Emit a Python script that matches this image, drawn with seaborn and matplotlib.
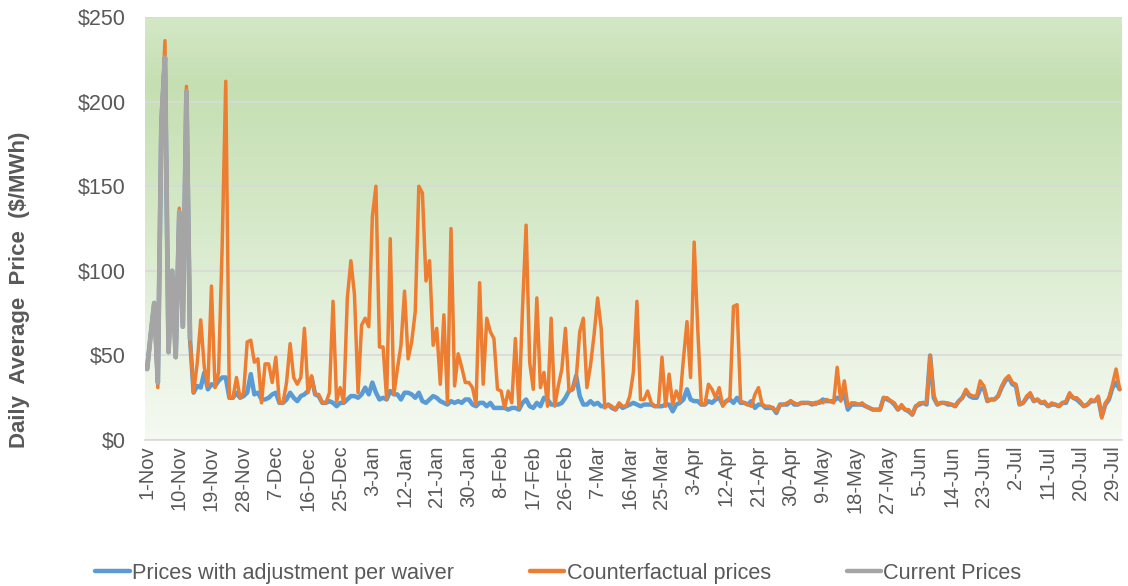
import numpy as np
import pandas as pd
import matplotlib
matplotlib.use("Agg")
import matplotlib.pyplot as plt
import seaborn as sns
from matplotlib.colors import LinearSegmentedColormap
from matplotlib.lines import Line2D

# ---------------------------------------------
# Daily average prices ($/MWh), 1-Nov .. 31-Jul
# ---------------------------------------------
current_prices = [42, 62, 81, 34, 188, 226, 52, 100, 49, 135, 67, 206, 60]

adjusted_prices = [
    # Nov
    42, 62, 81, 34, 188, 226, 52, 100, 49, 135, 67, 206, 60, 28, 32, 31, 40, 30, 33, 32,
    35, 37, 37, 25, 25, 28, 25, 26, 28, 39,
    # Dec
    27, 28, 24, 24, 25, 27, 28, 22, 22, 24, 28, 25, 23, 26, 27, 29, 37, 27, 26, 22,
    22, 23, 22, 20, 22, 22, 24, 26, 26, 25, 27,
    # Jan
    31, 27, 34, 28, 24, 25, 24, 29, 27, 27, 24, 28, 28, 27, 25, 28, 23, 22, 24, 26,
    25, 23, 22, 21, 23, 22, 23, 22, 24, 24, 21,
    # Feb
    20, 22, 22, 20, 22, 19, 19, 19, 19, 18, 19, 19, 18, 22, 24, 20, 19, 22, 20, 25,
    24, 21, 21, 21, 22, 25, 29, 30,
    # Mar
    38, 26, 21, 21, 23, 21, 22, 20, 20, 21, 19, 18, 21, 19, 20, 21, 22, 21, 20, 21,
    21, 21, 20, 20, 20, 21, 21, 17, 21, 22, 24,
    # Apr
    30, 24, 23, 23, 21, 21, 23, 22, 24, 25, 21, 23, 24, 22, 25, 22, 22, 21, 23, 19,
    21, 21, 19, 19, 19, 16, 21, 21, 21, 23,
    # May
    21, 21, 22, 22, 22, 21, 22, 22, 24, 23, 23, 23, 25, 24, 27, 18, 21, 21, 21, 21,
    20, 19, 18, 18, 18, 25, 24, 23, 21, 18, 20,
    # Jun
    18, 17, 15, 20, 21, 22, 21, 50, 25, 21, 22, 22, 21, 21, 20, 23, 25, 29, 26, 25,
    25, 30, 31, 23, 24, 24, 26, 31, 35, 37,
    # Jul
    33, 32, 21, 22, 25, 27, 23, 24, 22, 22, 20, 21, 21, 20, 22, 22, 27, 25, 24, 22,
    20, 21, 23, 23, 25, 14, 21, 24, 31, 34, 30,
]

counterfactual_prices = [
    # Nov
    42, 62, 81, 31, 188, 236, 52, 100, 49, 137, 67, 209, 60, 28, 45, 71, 43, 32, 91, 31,
    40, 115, 212, 25, 25, 37, 25, 28, 58, 59,
    # Dec
    46, 48, 22, 45, 45, 34, 49, 22, 22, 34, 57, 37, 33, 37, 66, 28, 38, 27, 27, 22,
    22, 28, 82, 23, 31, 22, 84, 106, 86, 28, 68,
    # Jan
    72, 67, 132, 150, 55, 55, 24, 119, 27, 42, 56, 88, 48, 58, 76, 150, 146, 94, 106, 56,
    66, 33, 74, 22, 125, 32, 51, 43, 34, 34, 31,
    # Feb
    21, 93, 33, 72, 64, 60, 30, 29, 19, 29, 22, 60, 19, 78, 127, 46, 30, 84, 31, 40,
    20, 72, 20, 32, 42, 66, 29, 30,
    # Mar
    36, 64, 72, 31, 44, 62, 84, 66, 19, 21, 20, 18, 22, 20, 20, 26, 40, 82, 24, 24,
    29, 22, 20, 20, 49, 20, 39, 21, 29, 23, 48,
    # Apr
    70, 37, 117, 66, 21, 21, 33, 30, 25, 31, 20, 23, 25, 79, 80, 23, 22, 21, 20, 27,
    31, 21, 20, 20, 19, 17, 21, 21, 22, 23,
    # May
    22, 21, 22, 22, 22, 22, 21, 23, 22, 24, 23, 22, 43, 23, 35, 20, 22, 22, 21, 22,
    20, 19, 18, 18, 18, 25, 25, 23, 22, 18, 21,
    # Jun
    18, 18, 15, 20, 22, 22, 22, 50, 27, 21, 22, 22, 22, 21, 20, 23, 25, 30, 27, 26,
    26, 35, 32, 23, 24, 24, 26, 32, 36, 38,
    # Jul
    34, 33, 21, 22, 26, 28, 23, 24, 22, 23, 20, 22, 21, 20, 22, 23, 28, 25, 25, 23,
    20, 21, 24, 23, 26, 13, 22, 25, 33, 42, 30,
]

y_ticks = [0, 50, 100, 150, 200, 250]
y_tick_labels = ["$0", "$50", "$100", "$150", "$200", "$250"]

dates = pd.date_range("2017-11-01", periods=len(adjusted_prices), freq="D")
tick_idx = list(range(0, len(dates), 9))
tick_labels = [f"{dates[i].day}-{dates[i].strftime('%b')}" for i in tick_idx]

blue = "#5b9bd5"
orange = "#ed7d31"
grey = "#a5a5a5"
text_grey = "#595959"

# ---------------------------------------------
# Plot
# ---------------------------------------------
sns.set_theme(style="white")
plt.rcParams["font.family"] = ["Liberation Sans", "DejaVu Sans"]

fig = plt.figure(figsize=(11.28, 5.86), dpi=100)
ax = fig.add_axes([0.1285, 0.249, 0.866, 0.722])

xmin, xmax = -0.6, len(dates) - 0.4

# gradient plot area (green at top fading to near white)
bg = LinearSegmentedColormap.from_list("bg", [
    (0.0, "#f5faf2"), (0.2, "#eaf3e3"), (0.4, "#ddedd3"),
    (0.6, "#d1e6c2"), (0.84, "#c5dfb2"), (1.0, "#d4e8c7")])
grad = np.linspace(0, 1, 256).reshape(-1, 1)
ax.imshow(grad, extent=[xmin, xmax, 0, 250], origin="lower", aspect="auto",
          cmap=bg, zorder=0)

df_adj = pd.DataFrame({"day": np.arange(len(adjusted_prices)), "price": adjusted_prices})
df_cf = pd.DataFrame({"day": np.arange(len(counterfactual_prices)), "price": counterfactual_prices})
df_cur = pd.DataFrame({"day": np.arange(len(current_prices)), "price": current_prices})

sns.lineplot(data=df_adj, x="day", y="price", color=blue, linewidth=3.2, ax=ax, zorder=3)
sns.lineplot(data=df_cf, x="day", y="price", color=orange, linewidth=2.5, ax=ax, zorder=4)
sns.lineplot(data=df_cur, x="day", y="price", color=grey, linewidth=3.4, ax=ax, zorder=5)

ax.set_xlim(xmin, xmax)
ax.set_ylim(0, 250)
ax.set_yticks(y_ticks)
ax.set_yticklabels(y_tick_labels, fontsize=15.5, color=text_grey)
ax.set_xticks(tick_idx)
ax.set_xticklabels(tick_labels, rotation=90, fontsize=14.5, color=text_grey)
ax.tick_params(axis="both", length=0)
ax.tick_params(axis="y", pad=14)
ax.tick_params(axis="x", pad=4)

ax.set_axisbelow(True)
ax.yaxis.grid(True, color="#d9d9d9", linewidth=1.2)
ax.xaxis.grid(False)
for side in ["top", "right", "left"]:
    ax.spines[side].set_visible(False)
ax.spines["bottom"].set_color("#d9d9d9")
ax.spines["bottom"].set_linewidth(1.2)

ax.set_xlabel("")
ax.set_ylabel("Daily  Average  Price  ($/MWh)", fontsize=16, fontweight="bold",
              color=text_grey)
ax.yaxis.set_label_coords(-0.118, 0.355)

handles = [
    Line2D([0], [0], color=blue, linewidth=3.2),
    Line2D([0], [0], color=orange, linewidth=3.2),
    Line2D([0], [0], color=grey, linewidth=3.2),
]
labels = ["Prices with adjustment per waiver", "Counterfactual prices", "Current Prices"]
fig.legend(handles, labels, loc="center", bbox_to_anchor=(0.495, 0.022), ncol=3,
           frameon=False, fontsize=15.6, handlelength=1.6, handletextpad=0.1,
           columnspacing=3.5, labelcolor=text_grey)

fig.savefig("out.png", dpi=100)
